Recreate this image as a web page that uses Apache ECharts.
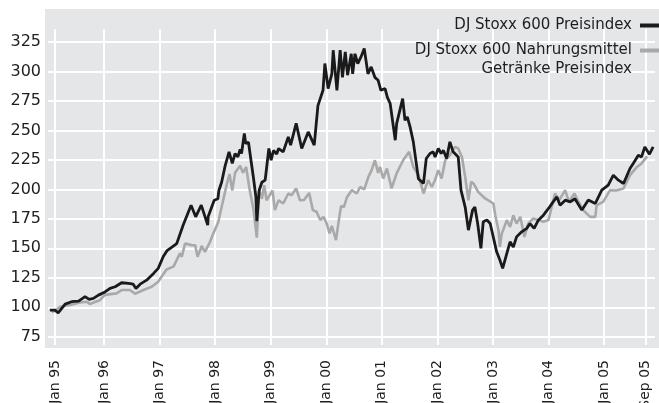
<!DOCTYPE html>
<html>
<head>
<meta charset="utf-8">
<title>DJ Stoxx 600</title>
<script src="https://cdn.jsdelivr.net/npm/echarts@6/dist/echarts.min.js"></script>
<style>
html,body{margin:0;padding:0;background:#fff;}
#main{width:659px;height:403px;}
</style>
</head>
<body>
<div id="main"></div>
<script type="text/javascript">
// Monate seit Jan 95 und Indexwerte
var stoxxMonths = [0.3,1.4,2.1,3.6,5.0,6.5,7.9,8.8,9.7,10.8,12.2,13.3,14.4,15.8,17.3,18.3,18.9,19.8,21.2,22.7,23.7,24.8,25.6,26.3,27.7,29.1,30.8,31.8,33.0,34.4,34.5,35.8,36.6,36.8,37.4,38.1,39.0,39.7,40.3,40.9,41.4,41.7,42.3,42.6,43.2,43.8,44.3,44.8,45.0,45.5,46.1,46.8,47.1,47.6,48.1,48.6,49.3,49.7,50.7,51.8,52.3,53.5,54.7,56.1,57.4,58.2,59.3,59.7,60.4,61.2,61.5,62.3,63.0,63.5,64.1,64.6,65.4,65.7,66.2,66.8,67.5,68.2,69.0,69.7,70.5,71.2,71.8,72.7,73.2,73.8,74.9,75.2,76.5,77.0,77.5,78.1,78.8,79.2,79.9,81.0,81.6,82.4,83.1,83.5,84.2,84.8,85.3,86.0,86.7,87.4,88.5,89.1,90.0,90.7,91.6,92.1,92.7,93.4,93.9,94.7,95.4,95.9,96.8,97.5,98.1,99.0,99.7,100.4,101.1,102.2,103.3,104.0,104.9,105.8,106.9,108.0,109.0,109.8,110.5,111.6,112.7,113.7,115.2,116.6,118.1,119.5,120.9,122.0,123.1,124.2,125.6,126.3,127.4,128.1,128.8,129.8,130.6];
var stoxxValues = [97.5,97.5,95.3,102.7,104.7,105.2,109.0,106.7,107.5,110.3,113.0,116.0,117.4,120.8,120.2,119.6,116.0,119.6,123.0,128.7,133.0,143.0,148.0,150.0,154.0,169.7,186.6,176.7,186.6,169.7,177.0,190.8,192.0,199.0,206.0,219.0,231.8,222.0,230.4,227.5,233.8,230.4,247.4,238.9,240.0,223.0,209.0,193.6,173.0,199.0,206.0,207.8,217.7,234.7,224.7,233.0,230.0,234.6,231.8,244.5,237.5,256.0,234.6,248.7,237.5,271.0,284.0,306.7,285.5,298.0,318.0,284.0,318.0,295.0,316.6,296.8,315.0,298.0,315.0,306.7,312.3,319.4,298.0,303.8,295.0,292.5,284.0,285.5,278.0,272.8,241.7,255.8,277.0,258.6,261.4,253.0,240.3,239.0,209.0,205.0,226.2,230.4,231.8,227.5,234.7,230.4,233.0,226.2,240.3,231.8,227.5,199.3,185.0,165.4,182.4,185.0,171.0,150.0,172.5,174.0,171.0,162.6,147.0,140.0,133.0,145.7,155.5,151.0,159.7,164.0,166.9,171.0,166.9,173.9,178.1,183.8,189.4,193.6,186.6,190.8,189.4,192.0,182.4,191.0,188.0,199.3,203.6,212.0,207.8,205.0,217.7,222.0,229.0,227.5,236.0,229.8,236.0];

var foodMonths = [0.7,1.4,2.5,3.9,4.7,6.8,8.3,9.0,9.7,11.1,12.2,14.7,15.8,17.6,18.7,20.5,22.3,23.7,25.5,27.0,27.3,28.4,28.8,29.5,29.9,30.9,31.7,32.2,33.1,33.8,34.2,34.9,35.6,36.7,37.4,38.5,39.1,39.7,40.3,40.7,41.4,42.0,42.7,43.4,44.3,45.0,45.5,46.1,46.6,47.1,48.4,48.9,49.7,50.7,51.8,52.5,53.5,54.3,55.2,56.3,57.1,57.9,58.7,59.4,60.1,60.7,61.2,62.1,62.8,63.2,63.8,64.5,65.5,66.6,67.3,68.2,69.1,69.8,70.5,70.9,71.2,71.6,72.3,73.1,74.1,75.2,76.6,77.9,78.8,79.9,81.0,82.0,82.8,83.5,84.2,84.9,85.7,86.7,87.8,88.5,89.3,90.0,90.7,91.3,91.8,92.8,94.3,96.1,96.5,97.2,97.5,97.9,98.2,99.0,99.7,100.4,101.1,101.9,102.8,103.6,104.7,105.8,106.9,108.0,108.7,109.4,110.3,111.6,112.4,113.6,114.4,115.5,117.0,118.1,118.4,119.8,121.3,122.6,124.2,125.6,127.1,128.1,129.3];
var foodValues = [96.0,97.0,100.4,101.5,102.0,104.0,104.7,102.7,104.0,106.0,110.5,111.8,114.6,114.6,111.4,114.6,117.4,121.6,132.0,134.5,135.8,145.7,142.8,154.0,155.5,152.7,152.5,142.8,152.0,147.0,148.5,155.5,162.6,172.5,185.0,204.0,213.0,199.0,214.0,212.5,220.0,214.0,219.0,201.0,182.4,159.0,199.0,192.0,203.6,190.8,199.0,182.4,190.8,188.0,196.5,195.0,200.8,190.8,191.0,197.0,182.4,181.0,174.0,176.7,171.0,162.6,169.0,157.0,176.0,186.0,185.0,193.6,199.3,196.5,202.0,200.0,210.6,216.3,224.7,226.2,214.0,219.0,209.2,217.7,200.8,213.5,224.7,231.8,219.0,212.0,196.5,207.8,202.0,208.0,216.3,209.2,224.7,229.0,236.0,234.7,227.5,210.6,190.8,206.4,205.0,197.9,192.3,188.0,178.0,165.4,151.3,162.6,165.4,173.9,168.2,178.0,171.0,176.7,159.7,171.0,175.3,173.9,172.5,174.0,185.2,196.5,190.8,199.3,189.4,196.5,190.0,182.4,176.7,176.7,186.6,189.4,199.3,199.0,200.8,212.0,219.0,222.0,228.0];

var yTicks = [75,100,125,150,175,200,225,250,275,300,325];
var xTickMonths = [1.4,12,24,36,48,60,72,84,96,108,120,128.9];
var xTickLabels = ['Jan 95','Jan 96','Jan 97','Jan 98','Jan 99','Jan 00','Jan 01','Jan 02','Jan 03','Jan 04','Jan 05','Sep 05'];

var nameStoxx = 'DJ Stoxx 600 Preisindex';
var nameFood = 'DJ Stoxx 600 Nahrungsmittel\nGetränke Preisindex';

function pairs(xs, ys){
    var out = [];
    for (var i = 0; i < xs.length; i++) {
        out.push([xs[i], ys[i]]);
    }
    return out;
}

var font = 'DejaVu Sans';
var legendText = {fontFamily: font, fontSize: 15, color: '#1e1e1e', lineHeight: 19, padding: [0, 3, 0, 0]};
var myChart = echarts.init(document.getElementById('main'));
var option = {
    animation: false,
    backgroundColor: '#ffffff',
    textStyle: {fontFamily: font},
    graphic: [{
        type: 'rect',
        z: -10,
        silent: true,
        shape: {x: 45, y: 9, width: 614, height: 339},
        style: {fill: '#e5e6e8'}
    }],
    legend: [{
        orient: 'vertical',
        align: 'right',
        right: -3,
        top: 16,
        padding: 0,
        icon: 'rect',
        itemWidth: 22,
        itemHeight: 4,
        textStyle: legendText,
        data: [nameStoxx]
    }, {
        orient: 'vertical',
        align: 'right',
        right: -3,
        top: 22,
        padding: 0,
        icon: 'rect',
        itemWidth: 22,
        itemHeight: 4,
        textStyle: legendText,
        // leere erste Zeile, damit das Symbol auf Höhe der ersten Textzeile sitzt
        formatter: function (name) { return '\n' + name; },
        data: [nameFood]
    }],
    grid: {left: 48, right: 4, top: 29, bottom: 58, outerBoundsMode: 'none', containLabel: false},
    xAxis: {
        type: 'value',
        min: -0.1,
        max: 131,
        axisLine: {show: false},
        axisTick: {show: false, customValues: xTickMonths},
        splitLine: {show: true, lineStyle: {color: '#ffffff', width: 2}},
        axisLabel: {
            customValues: xTickMonths,
            rotate: 90,
            margin: 15,
            fontFamily: font,
            fontSize: 14,
            color: '#1e1e1e',
            formatter: function (v) {
                var i = xTickMonths.indexOf(v);
                return i >= 0 ? xTickLabels[i] : '';
            }
        }
    },
    yAxis: {
        type: 'value',
        min: 68,
        max: 336,
        axisLine: {show: false},
        axisTick: {show: false, customValues: yTicks},
        splitLine: {show: true, lineStyle: {color: '#ffffff', width: 2}},
        axisLabel: {
            customValues: yTicks,
            margin: 7,
            fontFamily: font,
            fontSize: 16,
            color: '#1e1e1e'
        }
    },
    series: [{
        name: nameFood,
        type: 'line',
        showSymbol: false,
        data: pairs(foodMonths, foodValues),
        itemStyle: {color: '#a9a9a9'},
        lineStyle: {color: '#a9a9a9', width: 2.6},
        z: 2
    }, {
        name: nameStoxx,
        type: 'line',
        showSymbol: false,
        data: pairs(stoxxMonths, stoxxValues),
        itemStyle: {color: '#1a1a1a'},
        lineStyle: {color: '#1a1a1a', width: 2.8},
        z: 3
    }]
};
myChart.setOption(option);
</script>
</body>
</html>
